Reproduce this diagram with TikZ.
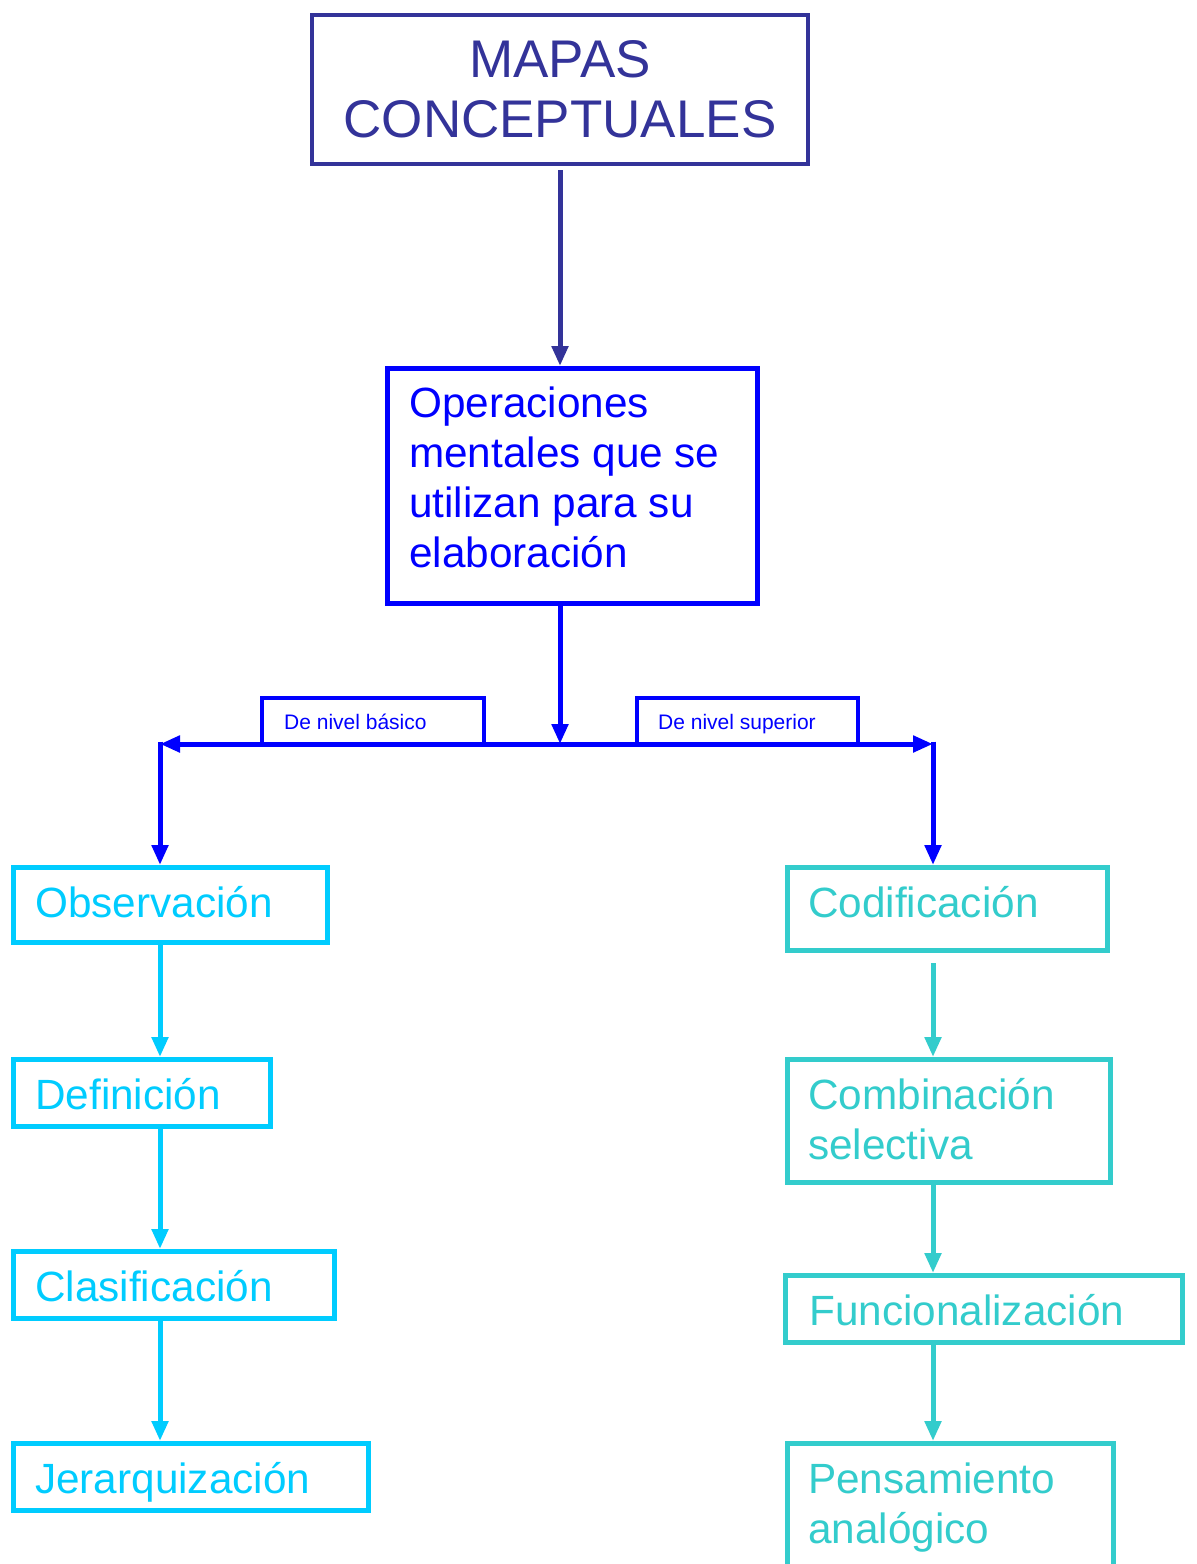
\documentclass[tikz,border=0pt]{standalone}
\usepackage{fontspec}
\setmainfont{Liberation Sans}
\usetikzlibrary{arrows.meta,fit}
\definecolor{cTitle}{HTML}{333399}
\definecolor{cBlue}{HTML}{0000FF}
\definecolor{cLeft}{HTML}{00CCFF}
\definecolor{cRight}{HTML}{33CCCC}
\tikzset{
  frame/.style={draw, inner sep=0pt, line width=5pt},
  bigtxt/.style={anchor=base west, inner sep=0pt, font=\fontsize{42.3}{50}\selectfont, align=left},
  smalltxt/.style={anchor=base west, inner sep=0pt, font=\fontsize{21}{24}\selectfont, text=cBlue},
  arr/.style={line width=5pt, -{Triangle[length=20pt,width=16pt]}},
}
\begin{document}
\begin{tikzpicture}[x=1pt,y=-1pt]
\clip (0,0) rectangle (1197,1564);
\fill[white] (0,0) rectangle (1197,1564);
% title
\node[frame, line width=4pt, draw=cTitle, fit={(312,15) (808,164)}] (title) {};
\node[anchor=base, inner sep=0pt, align=center, text=cTitle, font=\fontsize{53}{60}\selectfont] (titletxt) at (560,137) {MAPAS\\CONCEPTUALES};
% operations
\node[frame, draw=cBlue, fit={(387.5,368.5) (757.5,603.5)}] (ops) {};
\node[bigtxt, text=cBlue] (opstxt) at (409,567) {Operaciones\\mentales que se\\utilizan para su\\elaboración};
% junction
\coordinate (j) at (560,744);
\coordinate (jl) at (160,744);
\coordinate (jr) at (933,744);
% labels
\node[frame, line width=4pt, draw=cBlue, fit={(262,698) (484,744)}] (basic) {};
\node[smalltxt] (basictxt) at (284,729) {De nivel básico};
\node[frame, line width=4pt, draw=cBlue, fit={(637,698) (858,744)}] (sup) {};
\node[smalltxt] (suptxt) at (658,729) {De nivel superior};
% left column
\node[frame, draw=cLeft, fit={(13.5,867.5) (327.5,942.5)}] (obs) {};
\node[bigtxt, text=cLeft] (obstxt) at (35,917) {Observación};
\node[frame, draw=cLeft, fit={(13.5,1059.5) (270.5,1126.5)}] (def) {};
\node[bigtxt, text=cLeft] (deftxt) at (35,1109) {Definición};
\node[frame, draw=cLeft, fit={(13.5,1251.5) (334.5,1318.5)}] (clas) {};
\node[bigtxt, text=cLeft] (clastxt) at (35,1301) {Clasificación};
\node[frame, draw=cLeft, fit={(13.5,1443.5) (368.5,1510.5)}] (jer) {};
\node[bigtxt, text=cLeft] (jertxt) at (35,1493) {Jerarquización};
% right column
\node[frame, draw=cRight, fit={(787.5,867.5) (1107.5,950.5)}] (cod) {};
\node[bigtxt, text=cRight] (codtxt) at (808,917) {Codificación};
\node[frame, draw=cRight, fit={(787.5,1059.5) (1110.5,1182.5)}] (comb) {};
\node[bigtxt, text=cRight] (combtxt) at (808,1159) {Combinación\\selectiva};
\node[frame, draw=cRight, fit={(785.5,1275.5) (1182.5,1342.5)}] (func) {};
\node[bigtxt, text=cRight] (functxt) at (809,1325) {Funcionalización};
\node[frame, draw=cRight, fit={(787.5,1443.5) (1113.5,1620)}] (pens) {};
\node[bigtxt, text=cRight] (penstxt) at (808,1543) {Pensamiento\\analógico};
% connectors
\draw[arr, draw=cTitle, fill=cTitle, shorten <=4pt] (title.south) -- (title.south |- ops.north);
\draw[arr, draw=cBlue, shorten <=-3pt] (j |- ops.south) -- (j);
\draw[arr, draw=cBlue] (j) -- (jl);
\draw[arr, draw=cBlue] (j) -- (jr);
\draw[arr, draw=cBlue, shorten <=-2.5pt] (jl) -- (jl |- obs.north);
\draw[arr, draw=cBlue, shorten <=-2.5pt] (jr) -- (jr |- cod.north);
\draw[arr, draw=cLeft, shorten <=-4pt] (jl |- obs.south) -- (jl |- def.north);
\draw[arr, draw=cLeft, shorten <=-2pt] (jl |- def.south) -- (jl |- clas.north);
\draw[arr, draw=cLeft, shorten <=-2pt] (jl |- clas.south) -- (jl |- jer.north);
\draw[arr, draw=cRight, shorten <=10pt] (jr |- cod.south) -- (jr |- comb.north);
\draw[arr, draw=cRight, shorten <=-4pt] (jr |- comb.south) -- (jr |- func.north);
\draw[arr, draw=cRight, shorten <=-2pt] (jr |- func.south) -- (jr |- pens.north);
\end{tikzpicture}
\end{document}
